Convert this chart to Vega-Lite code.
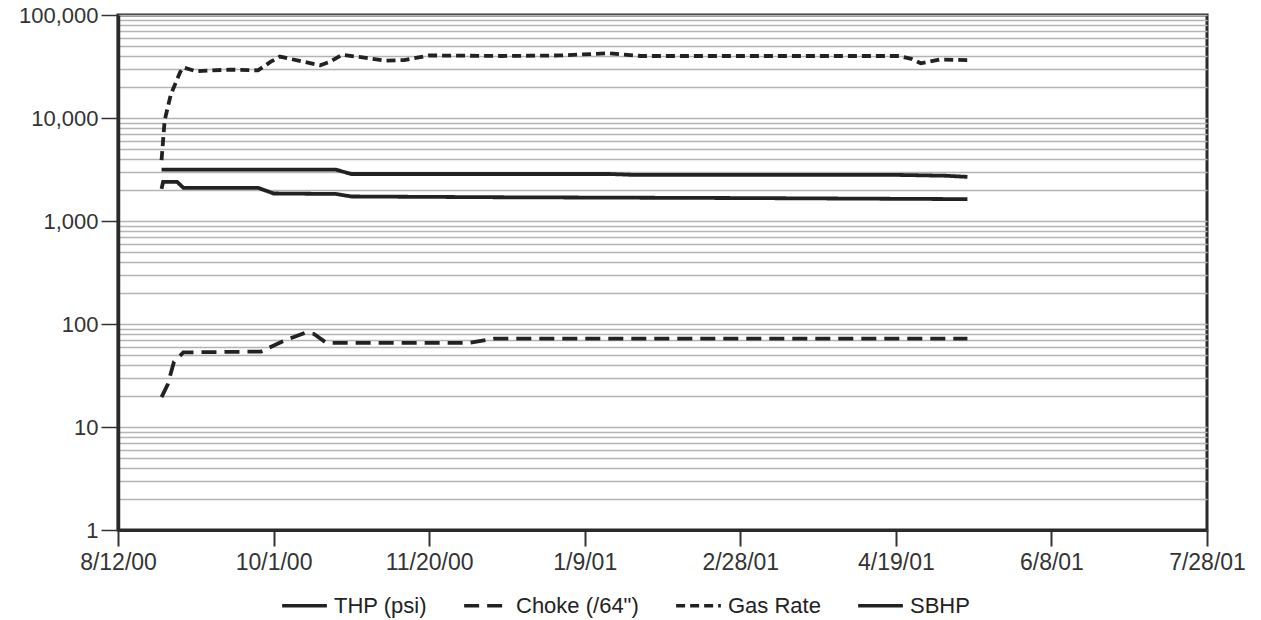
{
  "$schema": "https://vega.github.io/schema/vega-lite/v6.json",
  "width": 1089,
  "height": 515,
  "autosize": {"type": "none"},
  "padding": {"left": 118, "top": 15, "right": 54, "bottom": 90},
  "background": "white",
  "config": {
    "view": {"stroke": "#2a2a2a", "strokeWidth": 3},
    "font": "Liberation Sans",
    "axis": {"labelFont": "Liberation Sans", "labelColor": "#333", "domainColor": "#2a2a2a", "tickColor": "#333"},
    "legend": {"labelFont": "Liberation Sans"}
  },
  "data": {
    "values": [
      {"series": "Gas Rate", "date": "2000-08-26", "value": 3900},
      {"series": "Gas Rate", "date": "2000-08-27", "value": 9500},
      {"series": "Gas Rate", "date": "2000-08-29", "value": 17000},
      {"series": "Gas Rate", "date": "2000-09-01", "value": 28000},
      {"series": "Gas Rate", "date": "2000-09-02", "value": 31000},
      {"series": "Gas Rate", "date": "2000-09-06", "value": 28500},
      {"series": "Gas Rate", "date": "2000-09-17", "value": 29500},
      {"series": "Gas Rate", "date": "2000-09-26", "value": 29000},
      {"series": "Gas Rate", "date": "2000-09-30", "value": 35000},
      {"series": "Gas Rate", "date": "2000-10-03", "value": 39500},
      {"series": "Gas Rate", "date": "2000-10-09", "value": 36000},
      {"series": "Gas Rate", "date": "2000-10-16", "value": 32500},
      {"series": "Gas Rate", "date": "2000-10-19", "value": 35000},
      {"series": "Gas Rate", "date": "2000-10-23", "value": 41000},
      {"series": "Gas Rate", "date": "2000-10-29", "value": 39000},
      {"series": "Gas Rate", "date": "2000-11-06", "value": 36000},
      {"series": "Gas Rate", "date": "2000-11-12", "value": 36500},
      {"series": "Gas Rate", "date": "2000-11-20", "value": 40500},
      {"series": "Gas Rate", "date": "2000-12-13", "value": 40000},
      {"series": "Gas Rate", "date": "2001-01-01", "value": 40500},
      {"series": "Gas Rate", "date": "2001-01-17", "value": 42500},
      {"series": "Gas Rate", "date": "2001-01-27", "value": 40000},
      {"series": "Gas Rate", "date": "2001-03-19", "value": 40000},
      {"series": "Gas Rate", "date": "2001-04-20", "value": 40000},
      {"series": "Gas Rate", "date": "2001-04-24", "value": 37500},
      {"series": "Gas Rate", "date": "2001-04-27", "value": 34000},
      {"series": "Gas Rate", "date": "2001-05-03", "value": 37000},
      {"series": "Gas Rate", "date": "2001-05-12", "value": 36500},

      {"series": "SBHP", "date": "2000-08-26", "value": 3150},
      {"series": "SBHP", "date": "2000-10-21", "value": 3150},
      {"series": "SBHP", "date": "2000-10-26", "value": 2860},
      {"series": "SBHP", "date": "2001-01-17", "value": 2860},
      {"series": "SBHP", "date": "2001-01-25", "value": 2800},
      {"series": "SBHP", "date": "2001-04-20", "value": 2800},
      {"series": "SBHP", "date": "2001-05-05", "value": 2750},
      {"series": "SBHP", "date": "2001-05-12", "value": 2680},

      {"series": "THP (psi)", "date": "2000-08-26", "value": 2050},
      {"series": "THP (psi)", "date": "2000-08-26T12:00:00Z", "value": 2400},
      {"series": "THP (psi)", "date": "2000-08-31", "value": 2400},
      {"series": "THP (psi)", "date": "2000-09-02", "value": 2100},
      {"series": "THP (psi)", "date": "2000-09-26", "value": 2100},
      {"series": "THP (psi)", "date": "2000-10-01", "value": 1850},
      {"series": "THP (psi)", "date": "2000-10-21", "value": 1830},
      {"series": "THP (psi)", "date": "2000-10-26", "value": 1730},
      {"series": "THP (psi)", "date": "2000-12-13", "value": 1700},
      {"series": "THP (psi)", "date": "2001-02-28", "value": 1670},
      {"series": "THP (psi)", "date": "2001-05-12", "value": 1630},

      {"series": "Choke (/64\")", "date": "2000-08-26", "value": 19.5},
      {"series": "Choke (/64\")", "date": "2000-08-28", "value": 26},
      {"series": "Choke (/64\")", "date": "2000-08-30", "value": 43},
      {"series": "Choke (/64\")", "date": "2000-09-02", "value": 53},
      {"series": "Choke (/64\")", "date": "2000-09-27", "value": 54},
      {"series": "Choke (/64\")", "date": "2000-10-04", "value": 68},
      {"series": "Choke (/64\")", "date": "2000-10-11", "value": 82},
      {"series": "Choke (/64\")", "date": "2000-10-14", "value": 80},
      {"series": "Choke (/64\")", "date": "2000-10-18", "value": 65.5},
      {"series": "Choke (/64\")", "date": "2000-12-03", "value": 65.5},
      {"series": "Choke (/64\")", "date": "2000-12-11", "value": 72},
      {"series": "Choke (/64\")", "date": "2001-05-12", "value": 72}
    ]
  },
  "mark": {"type": "line", "color": "#222", "strokeWidth": 3.8, "clip": true},
  "encoding": {
    "x": {
      "field": "date",
      "type": "temporal",
      "scale": {"type": "utc", "domain": [966038400000, 996278400000], "nice": false},
      "axis": {
        "title": null,
        "values": [966038400000, 970358400000, 974678400000, 978998400000, 983318400000, 987638400000, 991958400000, 996278400000],
        "format": "%-m/%-d/%y",
        "grid": false,
        "domainWidth": 3,
        "tickSize": 16,
        "tickWidth": 2,
        "labelPadding": 5,
        "labelFontSize": 23,
        "labelOverlap": false,
        "labelFlush": false
      }
    },
    "y": {
      "field": "value",
      "type": "quantitative",
      "scale": {"type": "log", "domain": [1, 100000], "nice": false},
      "axis": {
        "title": null,
        "values": [1,2,3,4,5,6,7,8,9,10,20,30,40,50,60,70,80,90,100,200,300,400,500,600,700,800,900,1000,2000,3000,4000,5000,6000,7000,8000,9000,10000,20000,30000,40000,50000,60000,70000,80000,90000,100000],
        "labelExpr": "indexof([1,10,100,1000,10000,100000], datum.value) >= 0 ? format(datum.value, ',') : ''",
        "labelOverlap": false,
        "labelFontSize": 22,
        "labelPadding": 3,
        "tickSize": 17,
        "tickWidth": 1.5,
        "tickOpacity": {"condition": {"test": "indexof([1,10,100,1000,10000,100000], datum.value) >= 0", "value": 1}, "value": 0},
        "grid": true,
        "gridColor": "#b4b4b4",
        "gridWidth": 1.5,
        "domainWidth": 3.5
      }
    },
    "strokeDash": {
      "field": "series",
      "type": "nominal",
      "scale": {
        "domain": ["THP (psi)", "Choke (/64\")", "Gas Rate", "SBHP"],
        "range": [[1, 0], [15, 8], [9, 5], [1, 0]]
      },
      "legend": {
        "title": null,
        "orient": "none",
        "direction": "horizontal",
        "legendX": 162,
        "legendY": 566,
        "symbolType": "stroke",
        "symbolSize": 2000,
        "symbolStrokeWidth": 3.5,
        "symbolStrokeColor": "#222",
        "labelFontSize": 22,
        "labelColor": "#222",
        "labelOffset": 5,
        "columnPadding": 30
      }
    }
  }
}
